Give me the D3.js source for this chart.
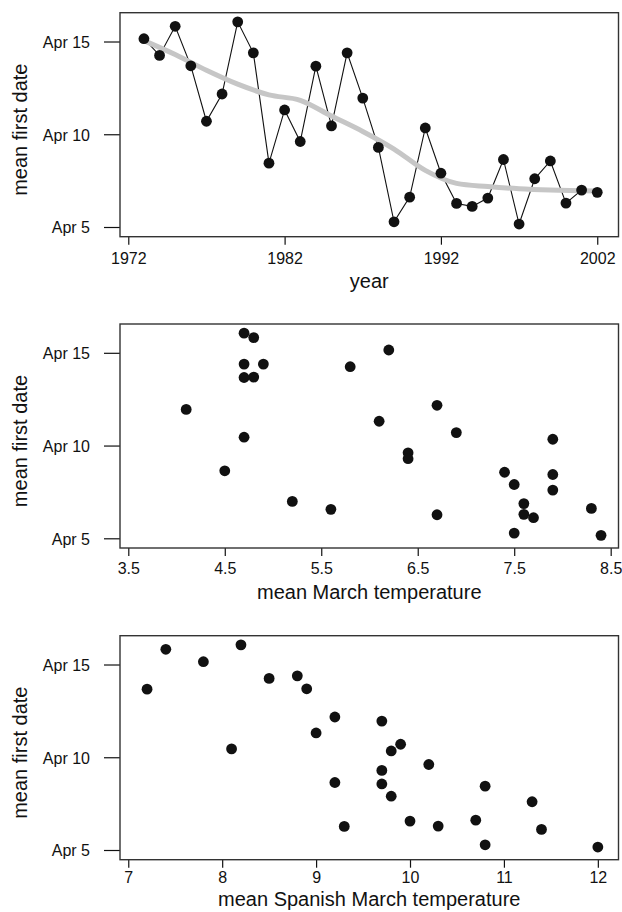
<!DOCTYPE html>
<html>
<head>
<meta charset="utf-8">
<script src="https://cdn.jsdelivr.net/npm/d3@7"></script>
<style>
  body { margin: 0; background: #fff; }
  svg { display: block; font-family: "Liberation Sans", Arial, sans-serif; }
</style>
</head>
<body>
<div id="chart"></div>
<script>
// data
var years = [1973, 1974, 1975, 1976, 1977, 1978, 1979, 1980, 1981, 1982,
             1983, 1984, 1985, 1986, 1987, 1988, 1989, 1990, 1991, 1992,
             1993, 1994, 1995, 1996, 1997, 1998, 1999, 2000, 2001, 2002];
// mean first date, as day of April
var firstDate = [15.15, 14.25, 15.82, 13.69, 10.70, 12.17, 16.06, 14.39, 8.44, 11.31,
                 9.61, 13.67, 10.45, 14.39, 11.95, 9.29, 5.28, 6.61, 10.34, 7.90,
                 6.27, 6.11, 6.56, 8.64, 5.16, 7.60, 8.56, 6.29, 6.99, 6.87];
var marchTemp = [6.2, 5.8, 4.8, 4.8, 6.9, 6.7, 4.7, 4.7, 7.9, 6.1,
                 6.4, 4.7, 4.7, 4.9, 4.1, 6.4, 7.5, 8.3, 7.9, 7.5,
                 6.7, 7.7, 5.6, 4.5, 8.4, 7.9, 7.4, 7.6, 5.2, 7.6];
var spanishTemp = [7.8, 8.5, 7.4, 8.9, 9.9, 9.2, 8.2, 8.8, 10.8, 9.0,
                   10.2, 7.2, 8.1, null, 9.7, 9.7, 10.8, 10.7, 9.8, 9.8,
                   9.3, 11.4, 10.0, 9.2, 12.0, 11.3, 9.7, 10.3, null, null];
// grey smoothed trend
var smoothYears  = [1973, 1975, 1977, 1979, 1981, 1983, 1985, 1987, 1989, 1991, 1993, 1995, 1997, 1999, 2002];
var smoothValues = [15.05, 14.30, 13.45, 12.70, 12.12, 11.83, 10.98, 10.15, 9.20, 8.05, 7.35, 7.18, 7.06, 6.99, 6.94];

var dayTicks = [5, 10, 15];
var yearTicks = [1972, 1982, 1992, 2002];
var marchTicks = [3.5, 4.5, 5.5, 6.5, 7.5, 8.5];
var spanishTicks = [7, 8, 9, 10, 11, 12];

var W = 622, H = 912;
var left = 120, boxW = 498.5, boxH = 224;

var svg = d3.select("#chart").append("svg")
  .attr("width", W).attr("height", H);

var y = d3.scaleLinear().domain([4.477, 16.553]).range([boxH, 0]);

var panels = [
  { top: 12.7, x: d3.scaleLinear().domain([1971.47, 2003.36]).range([0, boxW]),
    xv: years, ticks: yearTicks, fmt: d3.format("d"), title: "year",
    tickDy: 27, titleDy: 51.5, line: true },
  { top: 324, x: d3.scaleLinear().domain([3.414, 8.581]).range([0, boxW]),
    xv: marchTemp, ticks: marchTicks, fmt: d3.format(".1f"), title: "mean March temperature",
    tickDy: 26, titleDy: 51, line: false },
  { top: 635.7, x: d3.scaleLinear().domain([6.912, 12.22]).range([0, boxW]),
    xv: spanishTemp, ticks: spanishTicks, fmt: d3.format("d"), title: "mean Spanish March temperature",
    tickDy: 23, titleDy: 46, line: false }
];

panels.forEach(function(p){
  var g = svg.append("g").attr("transform", "translate(" + left + "," + p.top + ")");

  var pts = years.map(function(yr, i){ return { x: p.xv[i], y: firstDate[i] }; })
    .filter(function(d){ return d.x != null; });

  // y axis
  var ya = g.append("g").call(d3.axisLeft(y).tickValues(dayTicks).tickSize(16).tickSizeOuter(0)
      .tickFormat(function(d){ return "Apr " + d; }));
  ya.select(".domain").remove();
  ya.selectAll("line").attr("stroke", "#111").attr("stroke-width", 1.2);
  ya.selectAll("text").attr("x", -30).attr("dy", "0.36em")
    .style("font-size", "16px").style("font-family", "Liberation Sans, Arial, sans-serif").attr("fill", "#111");

  // x axis
  var xa = g.append("g").attr("transform", "translate(0," + boxH + ")")
    .call(d3.axisBottom(p.x).tickValues(p.ticks).tickSize(8).tickSizeOuter(0).tickFormat(p.fmt));
  xa.select(".domain").remove();
  xa.selectAll("line").attr("stroke", "#111").attr("stroke-width", 1.2);
  xa.selectAll("text").attr("y", p.tickDy).attr("dy", 0)
    .style("font-size", "16px").style("font-family", "Liberation Sans, Arial, sans-serif").attr("fill", "#111");

  // box
  g.append("rect").attr("width", boxW).attr("height", boxH)
    .attr("fill", "none").attr("stroke", "#333").attr("stroke-width", 1.4);

  // axis titles
  g.append("text").attr("x", boxW / 2).attr("y", boxH + p.titleDy)
    .attr("text-anchor", "middle").style("font-size", "20px").attr("fill", "#111")
    .text(p.title);
  g.append("text").attr("transform", "translate(" + (26.5 - left) + "," + (boxH / 2 + 5) + ") rotate(-90)")
    .attr("text-anchor", "middle").style("font-size", "20px").attr("fill", "#111")
    .text("mean first date");

  if (p.line) {
    g.append("path").datum(pts)
      .attr("d", d3.line().x(function(d){ return p.x(d.x); }).y(function(d){ return y(d.y); }))
      .attr("fill", "none").attr("stroke", "#111").attr("stroke-width", 1.1);

    var sm = smoothYears.map(function(yr, i){ return { x: yr, y: smoothValues[i] }; });
    g.append("path").datum(sm)
      .attr("d", d3.line().curve(d3.curveMonotoneX)
        .x(function(d){ return p.x(d.x); }).y(function(d){ return y(d.y); }))
      .attr("fill", "none").attr("stroke", "#c6c6c6").attr("stroke-width", 5)
      .attr("stroke-linecap", "round");
  }

  g.selectAll("circle.pt").data(pts).enter().append("circle")
    .attr("class", "pt")
    .attr("cx", function(d){ return p.x(d.x); })
    .attr("cy", function(d){ return y(d.y); })
    .attr("r", 5.4)
    .attr("fill", "#111");
});
</script>
</body>
</html>
